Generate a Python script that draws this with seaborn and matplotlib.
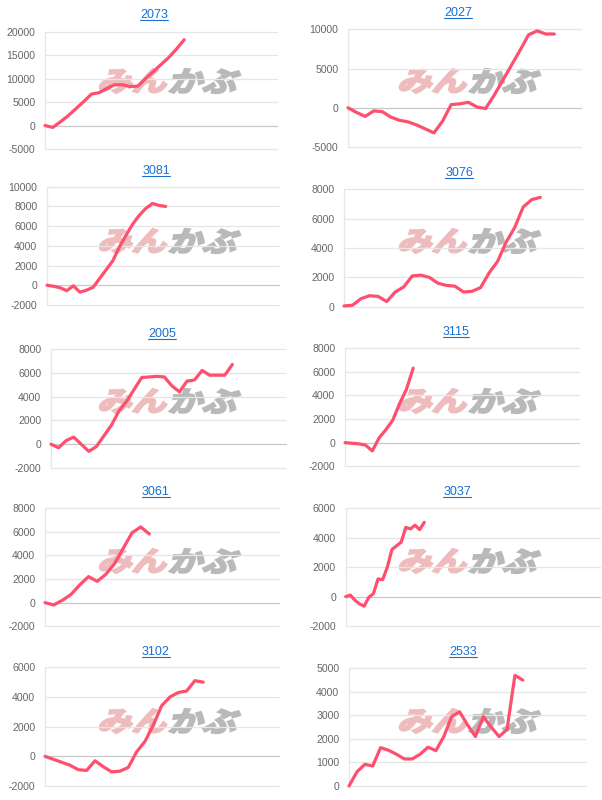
import numpy as np
import pandas as pd
import matplotlib
matplotlib.use("Agg")
import matplotlib.pyplot as plt
import seaborn as sns
from matplotlib.textpath import TextPath
from matplotlib.font_manager import FontProperties
from matplotlib.patches import PathPatch
from matplotlib.transforms import Affine2D, IdentityTransform
from matplotlib.lines import Line2D

# ---------------- data ----------------
codes = ["2073", "2027", "3081", "3076", "2005", "3115", "3061", "3037", "3102", "2533"]

s2073 = [0, -400, 800, 2100, 3600, 5100, 6700, 7000, 7900, 8700, 8700, 8300, 8400,
         10000, 11500, 13000, 14500, 16300, 18300]
s2027 = [0, -600, -1100, -400, -500, -1200, -1600, -1800, -2200, -2700, -3200, -1700,
         400, 500, 700, 100, -100, 1600, 3500, 5400, 7300, 9300, 9800, 9400, 9400]
s3081 = [0, -100, -250, -550, -50, -700, -500, -200, 700, 1600, 2500, 3900, 5100,
         6200, 7100, 7800, 8300, 8100, 8000]
s3076 = [50, 100, 550, 750, 700, 350, 1000, 1350, 2100, 2150, 2000, 1600, 1450, 1400,
         1000, 1050, 1300, 2300, 3100, 4400, 5400, 6800, 7300, 7450]
s2005 = [0, -300, 300, 600, 0, -600, -200, 700, 1600, 2800, 3600, 4600, 5600, 5650,
         5700, 5650, 4900, 4400, 5300, 5400, 6200, 5800, 5800, 5800, 6700]
s3115 = [0, -50, -100, -200, -700, 400, 1100, 1900, 3300, 4500, 6300]
s3061 = [0, -200, 200, 700, 1500, 2200, 1800, 2400, 3300, 4600, 5900, 6400, 5800]
s3037 = [0, 100, -250, -500, -650, -50, 200, 1200, 1150, 2000, 3200, 3450, 3700,
         4700, 4600, 4850, 4550, 5050]
s3102 = [0, -200, -400, -600, -900, -950, -300, -700, -1050, -1000, -750, 300, 1000,
         2100, 3400, 4000, 4300, 4400, 5100, 5000]
s2533 = [0, 600, 920, 850, 1630, 1520, 1350, 1150, 1150, 1350, 1650, 1500, 2100, 2950,
         3150, 2600, 2100, 2950, 2500, 2100, 2400, 4700, 4500]

series = [s2073, s2027, s3081, s3076, s2005, s3115, s3061, s3037, s3102, s2533]

# y-axis (min, max, step) per chart
yaxes = [(-5000, 20000, 5000), (-5000, 10000, 5000), (-2000, 10000, 2000),
         (0, 8000, 2000), (-2000, 8000, 2000), (-2000, 8000, 2000),
         (-2000, 8000, 2000), (-2000, 6000, 2000), (-2000, 6000, 2000),
         (0, 5000, 1000)]

# ---------------- layout (pixels) ----------------
W, H = 602, 800
boxes = [(45, 31.7, 277, 149), (348, 29.3, 581, 147),
         (47, 186.7, 279, 305), (344, 189.3, 583, 306.7),
         (51, 349, 286, 468), (345, 348, 579, 466.3),
         (45, 508, 279, 626.3), (345.7, 508.3, 600, 626),
         (45, 667.3, 279, 786), (349, 668.3, 586, 786)]
xspans = [30, 27.1, 35.2, 28, 31.1, 34.3, 26.9, 55, 28.1, 30]
title_pos = [(154, 15), (458, 13), (156, 171), (459, 172.7), (162, 334),
             (456, 331.7), (156, 491.7), (457, 491.7), (156, 651.7), (463, 651.7)]

LINE = "#ff4f6f"
GRID = "#e6e6e6"
ZERO = "#c8c8c8"
TICK = "#666666"
LINK = "#1a6fd1"

sns.set_theme(style="white")
plt.rcParams["font.family"] = ["Liberation Sans", "DejaVu Sans"]

fig = plt.figure(figsize=(W / 100, H / 100), dpi=100)
fig.patch.set_facecolor("white")

# watermark (background logo)
fp = FontProperties(family="Noto Sans CJK JP", weight="bold")
def watermark(cx, cy):
    parts = [("みん", "#eebcbc"), ("かぶ", "#b9b9b9")]
    xs = [cx - 72, cx - 1]
    for (txt, col), x0 in zip(parts, xs):
        tp = TextPath((0, 0), txt, size=1, prop=fp)
        ext = tp.get_extents()
        tr = (Affine2D().translate(-ext.x0, -ext.y0)
              .scale(66 / ext.width, 24 / ext.height)
              .skew_deg(16, 0).translate(x0 - 2, H - (cy + 12)))
        path = tr.transform_path(tp)
        patch = PathPatch(path, facecolor=col, edgecolor=col, linewidth=1.6,
                          joinstyle="miter", transform=IdentityTransform(), zorder=-5)
        fig.add_artist(patch)

for i in range(10):
    col, row = i % 2, i // 2
    watermark(col * 300 + 172, row * 160 + 81)

titles = []
for i, (code, vals) in enumerate(zip(codes, series)):
    x0, y0, x1, y1 = boxes[i]
    ax = fig.add_axes([x0 / W, 1 - y1 / H, (x1 - x0) / W, (y1 - y0) / H])
    ax.set_facecolor("none")
    ymin, ymax, step = yaxes[i]
    ticks = np.arange(ymin, ymax + 1, step)
    for tv in ticks:
        ax.axhline(tv, color=ZERO if (tv == 0 and ymin < 0) else GRID,
                   linewidth=0.9, zorder=1, clip_on=False)
    df = pd.DataFrame({"x": np.arange(len(vals)), "v": vals})
    sns.lineplot(data=df, x="x", y="v", ax=ax, color=LINE, linewidth=2.3,
                 zorder=5, clip_on=False)
    ax.set_xlim(0, xspans[i])
    ax.set_ylim(ymin, ymax)
    ax.set_yticks(ticks)
    ax.set_yticklabels([str(int(t)) for t in ticks])
    ax.set_xticks([])
    ax.set_xlabel("")
    ax.set_ylabel("")
    ax.grid(False)
    for s in ["top", "right", "bottom"]:
        ax.spines[s].set_visible(False)
    ax.spines["left"].set_color(GRID)
    ax.spines["left"].set_linewidth(0.9)
    ax.tick_params(axis="y", length=6, width=0.9, color=GRID, labelsize=7.6,
                   labelcolor=TICK, pad=1)
    tx, ty = title_pos[i]
    t = fig.text(tx / W, 1 - ty / H, code, ha="center", va="center",
                 fontsize=9, color=LINK)
    titles.append(t)

fig.canvas.draw()
r = fig.canvas.get_renderer()
for t in titles:
    bb = t.get_window_extent(r)
    yline = bb.y0 + 1.0
    fig.add_artist(Line2D([bb.x0, bb.x1], [yline, yline], color=LINK,
                          linewidth=0.8, transform=IdentityTransform()))

fig.savefig("out.png", dpi=100, facecolor="white")
